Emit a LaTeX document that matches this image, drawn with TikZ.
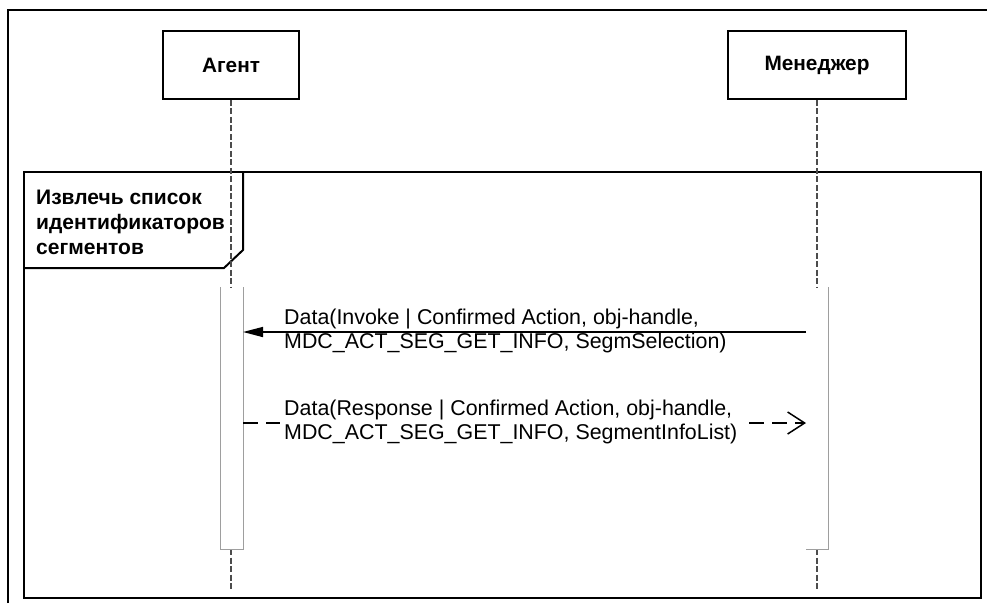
\documentclass[tikz,border=0pt]{standalone}
\usepackage{fontspec}
\setmainfont{Liberation Sans}
\usetikzlibrary{arrows.meta}
\definecolor{lifegray}{rgb}{0.3,0.3,0.3}
\definecolor{bargray}{rgb}{0.62,0.62,0.62}

\begin{document}
\begin{tikzpicture}[x=1pt,y=-1pt,line join=miter,
  actor/.style={draw,line width=1.8pt,minimum height=68pt,font=\bfseries\fontsize{20.8}{24}\selectfont},
  lifeline/.style={color=lifegray,line width=1.2pt,dash pattern=on 6pt off 2.5pt},
  bar/.style={color=bargray,line width=1pt},
  msg/.style={font=\fontsize{21.4}{23.5}\selectfont,align=left,anchor=west,inner sep=4pt}]
\useasboundingbox (0,0) rectangle (987,603);

% outer frame
\draw[line width=1.8pt] (8,603) -- (8,10) -- (987,10);

% fragment with its label
\draw[line width=2.4pt] (24,172) rectangle (981,598);
\draw[line width=2pt] (24,268) -- (224,268) -- (243,250) -- (243,172);
\node[anchor=west,align=left,inner sep=0pt,font=\bfseries\fontsize{21}{25}\selectfont] (fragname) at (36,222) {Извлечь список\\идентификаторов\\сегментов};

% actors
\node[actor,minimum width=136pt] (agent) at (231,65) {Агент};
\node[actor,minimum width=178pt] (manager) at (817,65) {Менеджер};

\foreach \n/\x in {agent/231,manager/817}
{
\coordinate (\n-top) at (\x,287);
\coordinate (\n-bot) at (\x,549);
\coordinate (\n-end) at (\x,589);
\draw[lifeline] (\n.south) -- (\n-top);
\draw[lifeline] (\n-bot) -- (\n-end);
}

% activation bars
\draw[bar] (220,287) -- (220,549) -- (243,549) -- (243,287);
\draw[bar] (806,549) -- (828,549) -- (828,287);

% messages
\coordinate (inv-from) at (806,332);
\coordinate (inv-to) at (243,332);
\coordinate (res-from) at (243,423);
\coordinate (res-to) at (806,423);

\draw[line width=1.5pt,-{Triangle[length=20pt,width=10pt]}] (inv-from) -- (inv-to);
\node[msg] (invoke) at (280,331) {Data(Invoke | Confirmed Action, obj-handle,\\MDC\_ACT\_SEG\_GET\_INFO, SegmSelection)};

\draw[line width=1.5pt,dash pattern=on 15pt off 8pt,-{Straight Barb[length=17pt,width=22pt,line width=1.5pt]}] (res-from) -- (res-to);
\node[msg,fill=white] (response) at (280,422) {Data(Response | Confirmed Action, obj-handle,\\MDC\_ACT\_SEG\_GET\_INFO, SegmentInfoList)};

\end{tikzpicture}
\end{document}
